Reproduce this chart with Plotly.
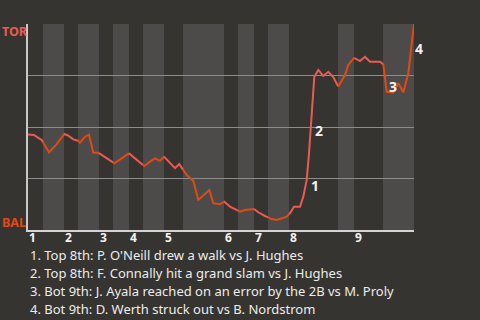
import plotly.graph_objects as go

# ---- data ----
# game progress (plate-appearance units) and TOR win probability (%)
progress = [0.0, 1.2, 2.06, 2.74, 4.2, 5.74, 7.26, 8.06, 9.06, 10.06, 10.4, 11.4, 12.2, 13.06,
            14.06, 15.74, 17.26, 18.74, 20.2, 21.4, 22.4, 23.26, 24.4, 25.4, 26.4, 27.2, 28.4,
            29.4, 30.26, 31.06, 31.74, 33.06, 34.06, 36.26, 37.06, 38.4, 39.26, 40.4, 42.4,
            43.4, 45.06, 46.06, 47.4, 48.74, 49.74, 51.74, 52.4, 53.2, 54.4, 55.06, 55.74,
            56.2, 56.6, 56.86, 57.26, 58.06, 59.06, 60.06, 61.06, 62.06, 63.4, 64.06, 65.2,
            66.4, 67.4, 68.4, 70.4, 71.06, 71.74, 73.06, 74.06, 75.06, 76.06, 76.74, 77.2]
tor_wp = [46.4, 46.1, 44.7, 43.7, 37.7, 41.7, 46.6, 45.8, 44.0, 43.3, 42.4, 45.3, 46.3, 37.5,
          37.5, 34.8, 32.4, 34.8, 37.2, 34.8, 32.7, 31.1, 33.2, 34.8, 33.6, 35.6, 32.7,
          30.0, 32.0, 29.1, 26.7, 23.9, 14.6, 19.4, 13.0, 12.5, 13.7, 11.3, 8.9,
          9.7, 10.5, 8.6, 6.8, 5.3, 4.9, 6.5, 8.1, 11.3, 11.3, 16.2, 24.3,
          37.2, 53.4, 63.1, 74.4, 77.7, 74.8, 76.8, 74.2, 69.6, 75.2, 80.1, 83.6,
          82.0, 84.1, 81.7, 81.7, 80.4, 67.1, 66.8, 71.2, 66.8, 76.1, 89.8, 100.0]

# half-inning boundaries (same progress units)
half_starts = [0.0, 3.0, 7.2, 10.0, 14.2, 17.0, 20.2, 23.0, 27.2, 31.0, 39.2, 42.0, 45.2,
               48.0, 52.2, 62.0, 65.2, 71.0]
game_end = 77.2
innings = ["1", "2", "3", "4", "5", "6", "7", "8", "9"]

key_labels = ["1", "2", "3", "4"]
key_x = [56.2, 57.0, 71.8, 77.0]
key_y = [21.4, 48.5, 69.9, 87.9]
key_text = [
    "1. Top 8th: P. O'Neill drew a walk vs J. Hughes",
    "2. Top 8th: F. Connally hit a grand slam vs J. Hughes",
    "3. Bot 9th: J. Ayala reached on an error by the 2B vs M. Proly",
    "4. Bot 9th: D. Werth struck out vs B. Nordstrom",
]

# ---- style ----
BG = "#363430"
BAND = "#4d4b49"
TOR_C = "#ec5b52"
BAL_C = "#e14a14"
FONT = "Noto Sans"
PLOT_W = 386.0

half_ends = half_starts[1:] + [game_end]

fig = go.Figure()


def interp(x0, y0, x1, y1, x):
    return y0 + (y1 - y0) * (x - x0) / (x1 - x0)


# split the line at half-inning boundaries, colouring by batting team
for h, (a, b) in enumerate(zip(half_starts, half_ends)):
    xs, ys = [], []
    for i in range(len(progress) - 1):
        x0, x1 = progress[i], progress[i + 1]
        y0, y1 = tor_wp[i], tor_wp[i + 1]
        lo, hi = max(x0, a), min(x1, b)
        if hi < lo:
            continue
        p0 = (lo, interp(x0, y0, x1, y1, lo))
        p1 = (hi, interp(x0, y0, x1, y1, hi))
        if not xs or xs[-1] != p0[0]:
            xs.append(p0[0]); ys.append(p0[1])
        xs.append(p1[0]); ys.append(p1[1])
    fig.add_trace(go.Scatter(x=xs, y=ys, mode="lines",
                             line=dict(color=TOR_C if h % 2 == 0 else BAL_C, width=2),
                             hoverinfo="skip", showlegend=False))

# alternating bands for bottom halves
for h, (a, b) in enumerate(zip(half_starts, half_ends)):
    if h % 2 == 1:
        fig.add_shape(type="rect", xref="x", yref="paper", x0=a, x1=b, y0=0, y1=1,
                      fillcolor=BAND, line_width=0, layer="below")

annotations = []
for lab, x, y in zip(key_labels, key_x, key_y):
    annotations.append(dict(x=x, y=y, xref="x", yref="y", text="<b>%s</b>" % lab,
                            showarrow=False, xanchor="left", yanchor="middle",
                            font=dict(family=FONT, size=14, color="#f2f2f2")))

# inning labels
for inn, h in zip(innings, range(0, 18, 2)):
    annotations.append(dict(x=half_starts[h], y=0, xref="x", yref="paper",
                            text="<b>%s</b>" % inn, showarrow=False, borderpad=0,
                            xanchor="left", yanchor="middle", yshift=-7.5, xshift=0,
                            font=dict(family=FONT, size=12, color="#f2f2f2")))

annotations.append(dict(x=-27 / PLOT_W, y=1, xref="paper", yref="paper", text="<b>TOR</b>",
                        showarrow=False, xanchor="left", yanchor="middle", borderpad=0,
                        yshift=-7, font=dict(family=FONT, size=12.5, color=TOR_C)))
annotations.append(dict(x=-27 / PLOT_W, y=0, xref="paper", yref="paper", text="<b>BAL</b>",
                        showarrow=False, xanchor="left", yanchor="middle", borderpad=0,
                        yshift=8, font=dict(family=FONT, size=12.5, color=BAL_C)))

for i, t in enumerate(key_text):
    annotations.append(dict(x=0, y=0, xref="paper", yref="paper", text=t,
                            showarrow=False, xanchor="left", yanchor="middle", borderpad=0,
                            xshift=1, yshift=-24.5 - 18 * i,
                            font=dict(family=FONT, size=13, color="#ececec")))

fig.update_layout(
    width=480, height=320,
    margin=dict(l=28, r=66, t=24, b=90),
    paper_bgcolor=BG, plot_bgcolor=BG,
    annotations=annotations,
    xaxis=dict(range=[0, game_end], showgrid=False, zeroline=False, showticklabels=False,
               showline=True, linecolor="#d4d4d4", linewidth=1.5, ticks=""),
    yaxis=dict(range=[0, 100], tickvals=[0, 25, 50, 75, 100], showgrid=True,
               gridcolor="#8c8c8c", gridwidth=1, zeroline=False, showticklabels=False,
               showline=True, linecolor="#c8c8c8", linewidth=1.5, ticks=""),
)

fig.write_html("out.html")
